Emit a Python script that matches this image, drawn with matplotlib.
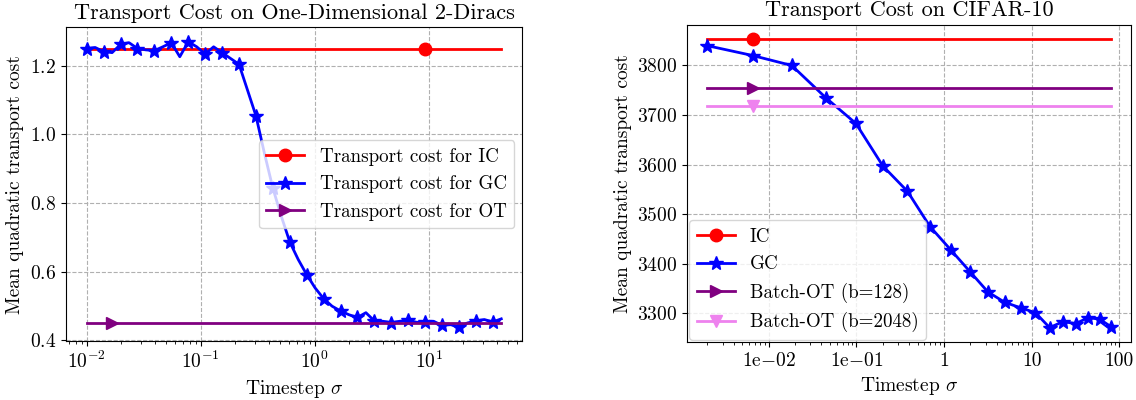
import numpy as np
import matplotlib
matplotlib.use("Agg")
import matplotlib.pyplot as plt

plt.rcParams["font.family"] = "serif"
plt.rcParams["font.serif"] = ["cmr10"]
plt.rcParams["mathtext.fontset"] = "cm"
plt.rcParams["axes.formatter.use_mathtext"] = True
plt.rcParams["font.size"] = 14
plt.rcParams["axes.titlesize"] = 16
plt.rcParams["legend.fontsize"] = 13.7

# --- 1D two-Diracs experiment ---
sigma_1d = [0.01, 0.01186, 0.01407, 0.01669, 0.0198, 0.0235, 0.02787, 0.03306,
            0.03922, 0.04653, 0.05521, 0.0655, 0.0777, 0.09218, 0.1094, 0.1297,
            0.1539, 0.1826, 0.2166, 0.257, 0.3048, 0.3616, 0.429, 0.509,
            0.6038, 0.7161, 0.8495, 1.008, 1.196, 1.418, 1.683, 1.996,
            2.368, 2.809, 3.333, 3.954, 4.69, 5.565, 6.601, 7.831,
            9.29, 11.02, 13.07, 15.51, 18.4, 21.83, 25.89, 30.72, 36.44, 43.23]
gc_1d = [1.250, 1.253, 1.241, 1.238, 1.262, 1.267, 1.250, 1.246, 1.244, 1.255,
         1.267, 1.226, 1.270, 1.255, 1.234, 1.255, 1.238, 1.221, 1.204, 1.129,
         1.054, 0.945, 0.843, 0.761, 0.686, 0.635, 0.591, 0.552, 0.521, 0.499,
         0.485, 0.474, 0.466, 0.480, 0.456, 0.455, 0.451, 0.455, 0.458, 0.452,
         0.453, 0.455, 0.443, 0.445, 0.439, 0.450, 0.456, 0.460, 0.453, 0.462]
ic_1d = 1.25
ot_1d = 0.45

# --- CIFAR-10 experiment (EDM sigma schedule) ---
sigma_cifar = [0.002, 0.00663, 0.0184, 0.0449, 0.0991, 0.2015, 0.384, 0.693,
               1.194, 1.98, 3.172, 4.931, 7.471, 11.06, 16.02, 22.8, 31.9,
               43.93, 59.68, 80.0]
gc_cifar = [3840, 3820, 3800, 3735, 3683, 3597, 3546, 3475, 3428, 3384,
            3343, 3322, 3311, 3301, 3271, 3283, 3279, 3291, 3288, 3273]
ic_cifar = 3853
ot128_cifar = 3755
ot2048_cifar = 3718

xticks_cifar = [0.01, 0.1, 1, 10, 100]
xticklabels_cifar = [r"$\mathrm{1e{-}02}$", r"$\mathrm{1e{-}01}$", "1", "10", "100"]

fig = plt.figure(figsize=(11.36, 4.0), dpi=100)
ax1 = fig.add_axes([0.0581, 0.1475, 0.4014, 0.784])
ax2 = fig.add_axes([0.6048, 0.145, 0.3908, 0.793])

lw = 2
n1 = len(sigma_1d)
ax1.plot(sigma_1d, [ic_1d] * n1, color="red", lw=lw, marker="o", markersize=9,
         markevery=[40], label="Transport cost for IC")
ax1.plot(sigma_1d, gc_1d, color="blue", lw=lw, marker="*", markersize=10,
         markevery=2, label="Transport cost for GC")
ax1.plot(sigma_1d, [ot_1d] * n1, color="purple", lw=lw, marker=">", markersize=9,
         markevery=[3], label="Transport cost for OT")
ax1.set_xscale("log")
ax1.set_yticks([0.4, 0.6, 0.8, 1.0, 1.2])
ax1.grid(True, linestyle="--")
ax1.set_xlabel(r"Timestep $\sigma$")
ax1.set_ylabel("Mean quadratic transport cost")
ax1.set_title("Transport Cost on One-Dimensional 2-Diracs")
ax1.legend(loc="center right", borderaxespad=0.4)

n2 = len(sigma_cifar)
ax2.plot(sigma_cifar, [ic_cifar] * n2, color="red", lw=lw, marker="o", markersize=9,
         markevery=[1], label="IC")
ax2.plot(sigma_cifar, gc_cifar, color="blue", lw=lw, marker="*", markersize=10,
         label="GC")
ax2.plot(sigma_cifar, [ot128_cifar] * n2, color="purple", lw=lw, marker=">",
         markersize=9, markevery=[1], label="Batch-OT (b=128)")
ax2.plot(sigma_cifar, [ot2048_cifar] * n2, color="violet", lw=lw, marker="v",
         markersize=9, markevery=[1], label="Batch-OT (b=2048)")
ax2.set_xscale("log")
ax2.set_xticks(xticks_cifar)
ax2.set_xticklabels(xticklabels_cifar)
ax2.grid(True, linestyle="--")
ax2.set_xlabel(r"Timestep $\sigma$")
ax2.set_ylabel("Mean quadratic transport cost")
ax2.set_title("Transport Cost on CIFAR-10")
ax2.legend(loc="lower left", borderaxespad=0.1)

fig.savefig("out.png", dpi=100)
